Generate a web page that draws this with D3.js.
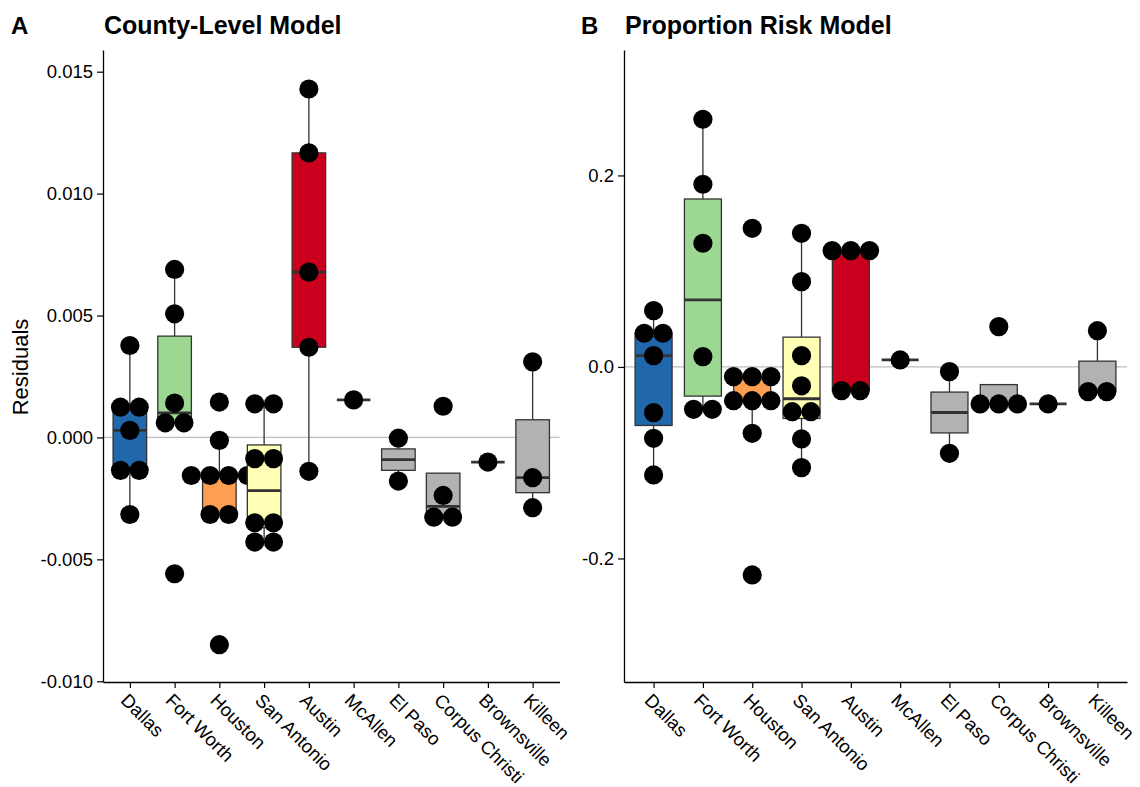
<!DOCTYPE html>
<html>
<head>
<meta charset="utf-8">
<script src="https://cdnjs.cloudflare.com/ajax/libs/d3/7.8.5/d3.min.js"></script>
<style>
    body { margin: 0; background: #fff; }
    text { font-family: "Liberation Sans", Arial, Helvetica, sans-serif; }
</style>
</head>
<body>
<svg id="chart" width="1140" height="787"></svg>
<script>
// cities on the x axis, same order in both panels
const cities = ["Dallas", "Fort Worth", "Houston", "San Antonio", "Austin",
    "McAllen", "El Paso", "Corpus Christi", "Brownsville", "Killeen"];
const cityColors = ["#2167ac", "#9dd893", "#fd9f50", "#ffffb5", "#ca001e",
    "#b2b2b2", "#b2b2b2", "#b2b2b2", "#b2b2b2", "#b2b2b2"];

const countyResiduals = [
    [0.00377, 0.00124, 0.00124, 0.00029, -0.00135, -0.00135, -0.00316],
    [0.00689, 0.00507, 0.00141, 0.0006, 0.0006, -0.00559],
    [0.00145, -0.00012, -0.00156, -0.00156, -0.00156, -0.00156, -0.00316, -0.00316, -0.0085],
    [0.00138, 0.00138, -0.00087, -0.00087, -0.0035, -0.0035, -0.00429, -0.00429],
    [0.01429, 0.01167, 0.00678, 0.0037, -0.00139],
    [0.00154],
    [-0.00003, -0.00179],
    [0.00128, -0.00238, -0.00327, -0.00327],
    [-0.00101],
    [0.0031, -0.00165, -0.00288]
];
const proportionResiduals = [
    [0.0588, 0.0352, 0.0352, 0.0118, -0.0477, -0.0745, -0.1128],
    [0.2587, 0.1908, 0.1292, 0.0108, -0.0442, -0.0442],
    [0.1448, -0.0101, -0.0101, -0.0101, -0.0352, -0.0352, -0.0352, -0.0693, -0.2172],
    [0.1396, 0.0891, 0.0118, -0.0197, -0.0467, -0.0467, -0.0752, -0.1051],
    [0.1215, 0.1215, 0.1215, -0.0247, -0.0247],
    [0.0073],
    [-0.0049, -0.0902],
    [0.0421, -0.0386, -0.0386, -0.0386],
    [-0.0386],
    [0.0379, -0.0258, -0.0258]
];

const countyTicks = [-0.010, -0.005, 0.000, 0.005, 0.010, 0.015];
const proportionTicks = [-0.2, 0.0, 0.2];
const countyLimits = [-0.01003, 0.01589];
const proportionLimits = [-0.329, 0.331];

const svg = d3.select("#chart");

function boxStats(values) {
    const s = values.slice().sort(d3.ascending);
    const q1 = d3.quantile(s, 0.25), med = d3.quantile(s, 0.5), q3 = d3.quantile(s, 0.75);
    const iqr = q3 - q1;
    const lo = d3.min(s.filter(v => v >= q1 - 1.5 * iqr));
    const hi = d3.max(s.filter(v => v <= q3 + 1.5 * iqr));
    return { q1, med, q3, lo, hi };
}

function drawPanel(opt) {
    const g = svg.append("g");
    const x = d3.scalePoint().domain(cities).range([opt.left, opt.right]).padding(0.6);
    const y = d3.scaleLinear().domain(opt.limits).range([682, 50]);
    const bw = x.step() * 0.75;
    const r = 9.6, gap = 18.7;

    // zero reference line
    g.append("line")
        .attr("x1", opt.left).attr("x2", opt.right)
        .attr("y1", y(0)).attr("y2", y(0))
        .attr("stroke", "#bebebe").attr("stroke-width", 1.2);

    opt.data.forEach((vals, i) => {
        const cx = x(cities[i]);
        const st = boxStats(vals);
        const box = g.append("g").attr("stroke", "#333").attr("stroke-width", 1.3);
        box.append("line").attr("x1", cx).attr("x2", cx).attr("y1", y(st.q3)).attr("y2", y(st.hi));
        box.append("line").attr("x1", cx).attr("x2", cx).attr("y1", y(st.q1)).attr("y2", y(st.lo));
        box.append("rect")
            .attr("x", cx - bw / 2).attr("width", bw)
            .attr("y", y(st.q3)).attr("height", y(st.q1) - y(st.q3))
            .attr("fill", cityColors[i]);
        box.append("line")
            .attr("x1", cx - bw / 2).attr("x2", cx + bw / 2)
            .attr("y1", y(st.med)).attr("y2", y(st.med))
            .attr("stroke-width", 2.8);

        // dots with equal values are stacked side by side
        const groups = d3.group(vals, v => v);
        groups.forEach((arr, v) => {
            arr.forEach((_, k) => {
                g.append("circle")
                    .attr("cx", cx + (k - (arr.length - 1) / 2) * gap)
                    .attr("cy", y(v))
                    .attr("r", r)
                    .attr("fill", "#000");
            });
        });
    });

    const yAxis = g.append("g")
        .attr("transform", `translate(${opt.left},0)`)
        .call(d3.axisLeft(y).tickValues(opt.ticks).tickFormat(d3.format(opt.fmt))
            .tickSize(6).tickSizeOuter(0).tickPadding(4));
    const xAxis = g.append("g")
        .attr("transform", "translate(0,682)")
        .call(d3.axisBottom(x).tickSize(6).tickSizeOuter(0).tickPadding(4));
    [yAxis, xAxis].forEach(a => {
        a.select(".domain").attr("stroke", "#000").attr("stroke-width", 1.3);
        a.selectAll(".tick line").attr("stroke", "#000").attr("stroke-width", 1.2);
        a.selectAll(".tick text").attr("fill", "#000").style("font-size", "18.5px");
    });
    yAxis.selectAll(".tick text").text(d => d3.format(opt.fmt)(d).replace("−", "-"));
    xAxis.selectAll(".tick text")
        .attr("text-anchor", "start")
        .attr("x", 0).attr("y", 0).attr("dy", "0.35em")
        .attr("transform", "translate(-6,15) rotate(45)");

    svg.append("text")
        .attr("x", opt.labelX).attr("y", 34)
        .style("font-size", "24px").style("font-weight", "bold")
        .text(opt.label);
    svg.append("text")
        .attr("x", opt.left + 1).attr("y", 34)
        .style("font-size", "25px").style("font-weight", "bold")
        .text(opt.title);
}

drawPanel({ data: countyResiduals, left: 103, right: 559.5, limits: countyLimits,
    ticks: countyTicks, fmt: ".3f", label: "A", labelX: 11, title: "County-Level Model" });
drawPanel({ data: proportionResiduals, left: 624, right: 1127, limits: proportionLimits,
    ticks: proportionTicks, fmt: ".1f", label: "B", labelX: 581, title: "Proportion Risk Model" });

svg.append("text")
    .attr("transform", "translate(28,367) rotate(-90)")
    .attr("text-anchor", "middle")
    .style("font-size", "22px")
    .text("Residuals");
</script>
</body>
</html>
